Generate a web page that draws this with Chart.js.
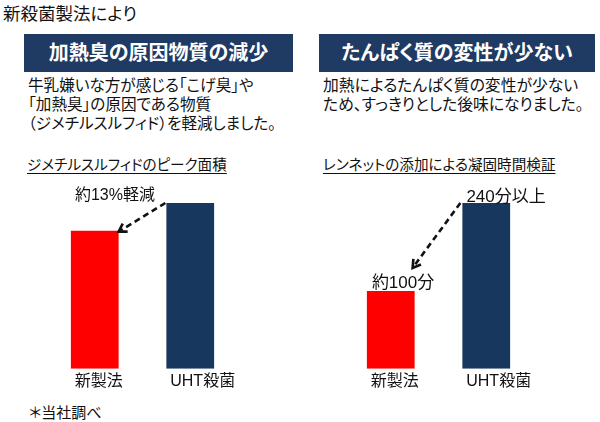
<!DOCTYPE html>
<html>
<head>
<meta charset="utf-8">
<script src="https://cdn.jsdelivr.net/npm/chart.js@4.4.0/dist/chart.umd.min.js"></script>
<style>
body { margin: 0; background: #fff; font-family: "Liberation Sans", "Noto Sans CJK JP", sans-serif; }
#page { position: relative; width: 600px; height: 422px; overflow: hidden; background: #fff; }
.txt { position: absolute; white-space: nowrap; color: #111; font-feature-settings: "palt"; }
.head { position: absolute; top: 34px; height: 38px; line-height: 38px; background: #1f3a63; color: #fff;
        font-weight: bold; font-size: 20px; text-align: center; font-feature-settings: "palt"; }
.sub { text-decoration: underline; text-underline-offset: 3px; font-size: 14.6px; line-height: 18px; top: 156px; }
canvas { position: absolute; }
</style>
</head>
<body>
<div id="page">
  <div class="txt" style="left:3px; top:3px; font-size:17.5px; line-height:22px;">新殺菌製法により</div>

  <div class="head" style="left:24px; width:269px;">加熱臭の原因物質の減少</div>
  <div class="head" style="left:319px; width:276px;">たんぱく質の変性が少ない</div>

  <div class="txt" style="left:28px; top:76px; font-size:15.6px; line-height:19px;">牛乳嫌いな方が感じる「こげ臭」や<br>「加熱臭」の原因である物質<br>（ジメチルスルフィド）を軽減しました。</div>
  <div class="txt" style="left:323px; top:76px; font-size:15.8px; line-height:19px;">加熱によるたんぱく質の変性が少ない<br>ため、すっきりとした後味になりました。</div>

  <div class="txt sub" style="left:27px;">ジメチルスルフィドのピーク面積</div>
  <div class="txt sub" style="left:323px;">レンネットの添加による凝固時間検証</div>

  <canvas id="peak_canvas" width="300" height="244" style="left:0px; top:150px;"></canvas>
  <canvas id="clot_canvas" width="300" height="244" style="left:300px; top:150px;"></canvas>

  <div class="txt" style="left:29px; top:403px; font-size:15px; line-height:19px;">＊当社調べ</div>
</div>
<script>
// data
var categories = ['新製法', 'UHT殺菌'];
var peakValues = [87, 100];      // peak area, UHT = 100
var clotMinutes = [100, 240];    // clotting time (min)
var barColors = ['#ff0000', '#17375e'];
var peakNote = '約13%軽減';
var clotNotes = ['約100分', '240分以上'];

var fontFamily = '"Liberation Sans", "Noto Sans CJK JP", sans-serif';

function drawArrow(ctx, x1, y1, x2, y2) {
    var ang = Math.atan2(y2 - y1, x2 - x1);
    var len = Math.hypot(x2 - x1, y2 - y1);
    ctx.save();
    ctx.strokeStyle = '#111';
    ctx.lineWidth = 2.6;
    ctx.setLineDash([6, 4]);
    ctx.beginPath();
    ctx.moveTo(x1, y1);
    ctx.lineTo(x1 + Math.cos(ang) * (len - 3), y1 + Math.sin(ang) * (len - 3));
    ctx.stroke();
    ctx.setLineDash([]);
    ctx.beginPath();
    ctx.moveTo(x2 - 9 * Math.cos(ang - 0.55), y2 - 9 * Math.sin(ang - 0.55));
    ctx.lineTo(x2, y2);
    ctx.lineTo(x2 - 9 * Math.cos(ang + 0.55), y2 - 9 * Math.sin(ang + 0.55));
    ctx.stroke();
    ctx.restore();
}

// labels and dashed arrows placed from the bar elements
var notePlugin = {
    id: 'notes',
    afterDatasetsDraw: function (chart, args, opts) {
        var ctx = chart.ctx;
        var bars = chart.getDatasetMeta(0).data;
        var low = bars[0], high = bars[1];
        ctx.save();
        ctx.fillStyle = '#111';
        ctx.textBaseline = 'middle';
        ctx.textAlign = 'left';
        if (opts.kind == 'peak') {
            ctx.font = '16px ' + fontFamily;
            ctx.fillText(peakNote, low.x - low.width / 2 + 4, high.y - 7);
            drawArrow(ctx, high.x - high.width / 2 - 1, high.y, low.x + low.width / 2, low.y + 1);
        } else {
            ctx.font = '17px ' + fontFamily;
            ctx.fillText(clotNotes[1], high.x - high.width / 2 + 4, high.y - 6);
            ctx.fillText(clotNotes[0], low.x - low.width / 2 + 5, low.y - 8);
            drawArrow(ctx, high.x - high.width / 2 - 2, high.y, low.x + low.width / 2 - 2, low.y - 23);
        }
        ctx.restore();
    }
};

function drawBars(id, values, yMin, yMax, padLeft, padRight, kind) {
    return new Chart(id, {
        type: 'bar',
        data: {
            labels: categories,
            datasets: [{
                data: values,
                backgroundColor: barColors,
                base: yMin,
                borderWidth: 0,
                barPercentage: 1,
                categoryPercentage: 0.5
            }]
        },
        options: {
            responsive: false,
            animation: false,
            layout: { padding: { left: padLeft, right: padRight, top: 53, bottom: 0 } },
            plugins: {
                legend: { display: false },
                tooltip: { enabled: false },
                notes: { kind: kind }
            },
            scales: {
                x: {
                    grid: { display: false, drawTicks: false },
                    border: { display: false },
                    ticks: {
                        color: '#111',
                        font: { size: 16, family: fontFamily },
                        padding: 3,
                        align: 'start',
                        labelOffset: -20
                    }
                },
                y: { display: false, min: yMin, max: yMax }
            }
        },
        plugins: [notePlugin]
    });
}

drawBars('peak_canvas', peakValues, 22, 100, 47, 62, 'peak');
drawBars('clot_canvas', clotMinutes, -24, 240, 43, 66, 'clot');
</script>
</body>
</html>
